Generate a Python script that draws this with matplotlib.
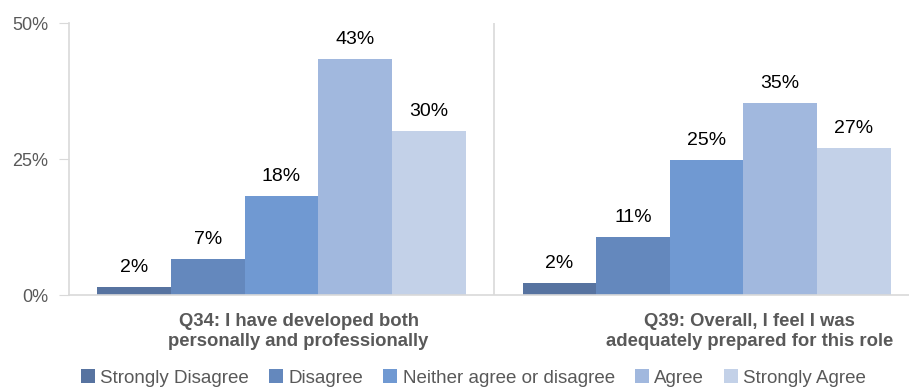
import numpy as np
import matplotlib.pyplot as plt
from matplotlib.patches import Patch

questions = ['Q34: I have developed both\npersonally and professionally',
             'Q39: Overall, I feel I was\nadequately prepared for this role']
responses = ['Strongly Disagree', 'Disagree', 'Neither agree or disagree', 'Agree', 'Strongly Agree']
# percent of respondents, one list per response, in question order
strongly_disagree = [1.5, 2.2]
disagree = [6.6, 10.6]
neither = [18.2, 24.8]
agree = [43.4, 35.3]
strongly_agree = [30.1, 27.0]
yticks = [0, 25, 50]

series = [strongly_disagree, disagree, neither, agree, strongly_agree]
colors = ['#5773A0', '#6488BD', '#7099D2', '#A1B8DE', '#C3D1E8']

plt.rcParams['font.family'] = ['Liberation Sans', 'DejaVu Sans']

fig = plt.figure(figsize=(9.09, 3.89), dpi=100)
ax = fig.add_axes([69 / 909, 94 / 389, 840 / 909, 272 / 389])

x = np.arange(len(questions))
bar_w = 0.866 / len(responses)
for i, (vals, col) in enumerate(zip(series, colors)):
    pos = x - 0.433 + bar_w * (i + 0.5)
    ax.bar(pos, vals, width=bar_w, color=col, zorder=2)
    for px, v in zip(pos, vals):
        ax.annotate(f'{v:.0f}%', (px, v), xytext=(0, 8), textcoords='offset points',
                    ha='center', va='bottom', fontsize=14, color='black')

ax.set_xlim(-0.5, 1.476)
ax.set_ylim(0, 50)
ax.set_yticks(yticks)
ax.set_yticklabels([f'{t}%' for t in yticks], fontsize=13, color='#595959')
ax.tick_params(axis='y', length=7, color='#D9D9D9', pad=8)
ax.set_xticks([])

for s in ['top', 'right']:
    ax.spines[s].set_visible(False)
for s in ['left', 'bottom']:
    ax.spines[s].set_color('#D9D9D9')
    ax.spines[s].set_linewidth(1.2)
ax.axvline(0.5, color='#D9D9D9', lw=1.2, zorder=1)

# category labels sit a little right of each group's centre
label_x = [0.04, 1.1]
for lx, q in zip(label_x, questions):
    ax.text(lx, -3.3, q, ha='center', va='top', fontsize=13.3, fontweight='bold',
            color='#595959', linespacing=1.2)

handles = [Patch(facecolor=c, edgecolor='none') for c in colors]
leg = fig.legend(handles, responses, loc='center', bbox_to_anchor=(0.521, 0.028), ncol=5,
                 frameon=False, handlelength=0.75, handleheight=0.75,
                 handletextpad=0.3, columnspacing=1.05,
                 prop={'family': ['Liberation Sans'], 'size': 13.5})
for t in leg.get_texts():
    t.set_color('#595959')

fig.savefig('out.png', dpi=100)
